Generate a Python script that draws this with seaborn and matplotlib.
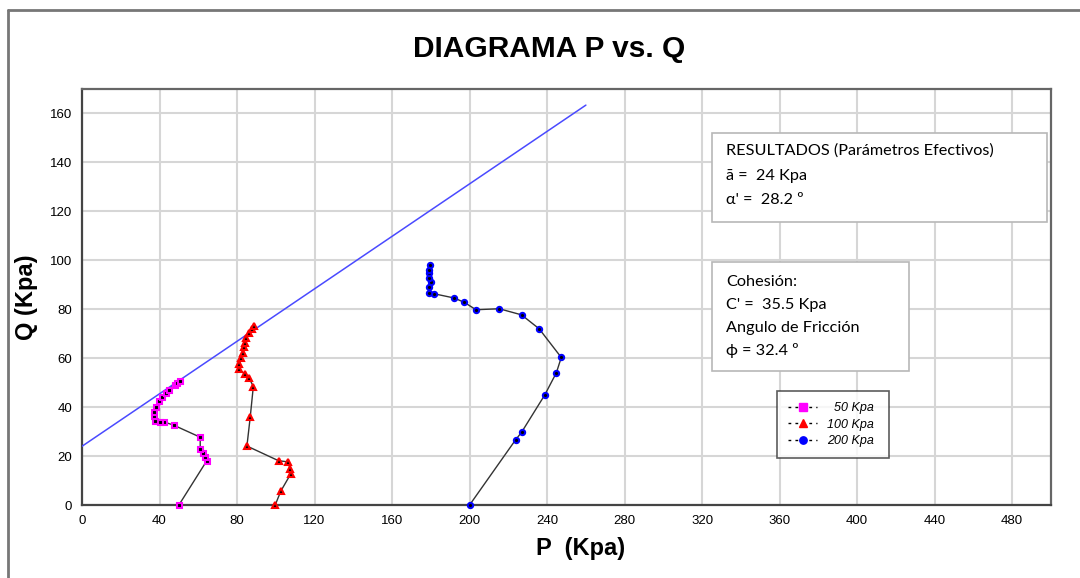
import matplotlib
matplotlib.use("Agg")
import matplotlib.pyplot as plt
import seaborn as sns
import numpy as np
from matplotlib.lines import Line2D
from matplotlib.patches import Rectangle

# ── Data ─────────────────────────────────────────────────────
p_50 = [50.0, 64.4, 63.5, 62.3, 61.0, 61.0, 47.4, 42.1, 40.1, 37.5, 37.2, 37.2,
        38.4, 39.7, 41.5, 43.5, 44.7, 47.8, 49.0, 50.4]
q_50 = [0.0, 18.1, 19.8, 21.4, 23.0, 27.7, 32.6, 34.0, 34.1, 34.5, 36.4, 37.9,
        40.2, 42.3, 44.3, 45.7, 47.1, 49.1, 49.8, 50.5]

p_100 = [99.7, 102.6, 107.7, 107.4, 106.5, 101.4, 85.1, 86.8, 88.4, 86.3, 84.1,
         80.8, 81.2, 82.1, 82.9, 83.8, 84.3, 84.6, 86.0, 87.5, 88.9]
q_100 = [0.0, 5.7, 12.7, 14.6, 17.6, 18.1, 24.1, 35.9, 48.4, 51.8, 53.5,
         55.5, 57.6, 60.0, 62.3, 64.5, 66.4, 68.2, 70.2, 71.9, 73.0]

p_200 = [200.0, 223.7, 226.8, 238.8, 244.8, 247.3, 235.9, 226.8, 215.3, 203.3,
         197.3, 192.0, 181.8, 178.8, 179.3, 180.0, 179.3, 179.3, 179.3, 179.7]
q_200 = [0.0, 26.6, 29.7, 45.0, 54.1, 60.3, 72.0, 77.7, 80.2, 79.8,
         82.8, 84.6, 86.3, 86.6, 89.1, 91.0, 92.8, 94.8, 96.2, 97.9]

# failure envelope: q = a + p * tan(alpha)
a_int = 24.0
alpha_deg = 28.2
p_env = [0.0, 260.0]

series = [
    ("50 Kpa", p_50, q_50, "s", "#ff00ff", 3.6),
    ("100 Kpa", p_100, q_100, "^", "#ff0000", 4.2),
    ("200 Kpa", p_200, q_200, "o", "#0000ff", 3.8),
]

# ── Figure ────────────────────────────────────────────────────
sns.set_theme(style="white")
plt.rcParams["font.family"] = ["Liberation Sans", "DejaVu Sans"]
plt.rcParams["text.color"] = "black"

fig = plt.figure(figsize=(10.8, 5.78), dpi=100)
ax = fig.add_axes([82 / 1080, 1 - 505 / 578, (1051 - 82) / 1080, (505 - 89) / 578])

q_env = [a_int + p * np.tan(np.radians(alpha_deg)) for p in p_env]
sns.lineplot(x=p_env, y=q_env, color="#4a4aff", lw=1.1, ax=ax, sort=False,
             estimator=None, zorder=3)

for name, px, qy, mk, clr, ms in series:
    sns.lineplot(x=px, y=qy, sort=False, estimator=None, color="#333333", lw=1.0,
                 marker=mk, markersize=ms, markerfacecolor="black",
                 markeredgecolor=clr, markeredgewidth=1.5, ax=ax, zorder=4,
                 clip_on=False)

ax.set_xlim(0, 500)
ax.set_ylim(0, 170)
ax.set_xticks(np.arange(0, 481, 40))
ax.set_yticks(np.arange(0, 161, 20))
ax.grid(True, color="#d6d6d6", lw=1.5)
ax.set_axisbelow(True)
for side in ["left", "bottom"]:
    ax.spines[side].set_color("#444444")
    ax.spines[side].set_linewidth(1.6)
for side in ["top", "right"]:
    ax.spines[side].set_color("#666666")
    ax.spines[side].set_linewidth(1.6)
ax.tick_params(axis="both", direction="out", length=4, width=1, color="#333333",
               labelsize=9.5, labelcolor="black", pad=3)
ax.set_xlabel("")
ax.set_ylabel("")

# titles / axis labels
fig.text(549 / 1080, 1 - 49 / 578, "DIAGRAMA P vs. Q", ha="center", va="center",
         fontsize=21.5, fontweight="bold", color="black")
fig.text(581 / 1080, 1 - 548 / 578, "P  (Kpa)", ha="center", va="center",
         fontsize=17, fontweight="bold", color="black")
fig.text(26 / 1080, 1 - 297 / 578, "Q (Kpa)", ha="center", va="center",
         fontsize=17, fontweight="bold", rotation=90, color="black")

# result boxes
box_font = ["Lato", "DejaVu Sans"]
for (x0, y0, x1, y1) in [(712, 133, 1047, 222), (712, 262, 909, 371)]:
    fig.add_artist(Rectangle((x0 / 1080, 1 - y1 / 578), (x1 - x0) / 1080,
                             (y1 - y0) / 578, transform=fig.transFigure,
                             facecolor="white", edgecolor="#b8b8b8", lw=1.2,
                             zorder=5))
box1 = ["RESULTADOS (Parámetros Efectivos)", "ā =  24 Kpa", "α' =  28.2 º"]
for txt, yy in zip(box1, [151, 176, 200]):
    fig.text(726 / 1080, 1 - yy / 578, txt, ha="left", va="center",
             fontsize=11.7, family=box_font, color="black", zorder=6)
box2 = ["Cohesión:", "C' =  35.5 Kpa", "Angulo de Fricción", "ϕ = 32.4 º"]
for txt, yy in zip(box2, [282, 305, 328, 351]):
    fig.text(726 / 1080, 1 - yy / 578, txt, ha="left", va="center",
             fontsize=11.7, family=box_font, color="black", zorder=6)

# legend
handles = [Line2D([], [], color="black", lw=1, ls=(0, (2, 3)), marker=mk,
                  markersize=ms + 1.5, markerfacecolor=clr, markeredgecolor=clr)
           for name, px, qy, mk, clr, ms in series]
labels = ["  50 Kpa ", "100 Kpa ", "200 Kpa "]
leg = ax.legend(handles, labels, loc="upper left",
                bbox_to_anchor=(777 / 1080, 1 - 391 / 578),
                bbox_transform=fig.transFigure, borderaxespad=0,
                frameon=True, fancybox=False, handlelength=2.3,
                handletextpad=0.8, labelspacing=0.35, borderpad=0.9,
                prop={"style": "italic", "size": 9})
leg.get_frame().set_edgecolor("#333333")
leg.get_frame().set_linewidth(1.2)
leg.set_zorder(6)

# chart-area frame
fig.add_artist(Line2D([8 / 1080, 8 / 1080], [0, 1 - 10 / 578],
                      transform=fig.transFigure, color="#777777", lw=2))
fig.add_artist(Line2D([8 / 1080, 1], [1 - 10 / 578, 1 - 10 / 578],
                      transform=fig.transFigure, color="#777777", lw=2))

fig.savefig("out.png", dpi=100)
plt.close(fig)
